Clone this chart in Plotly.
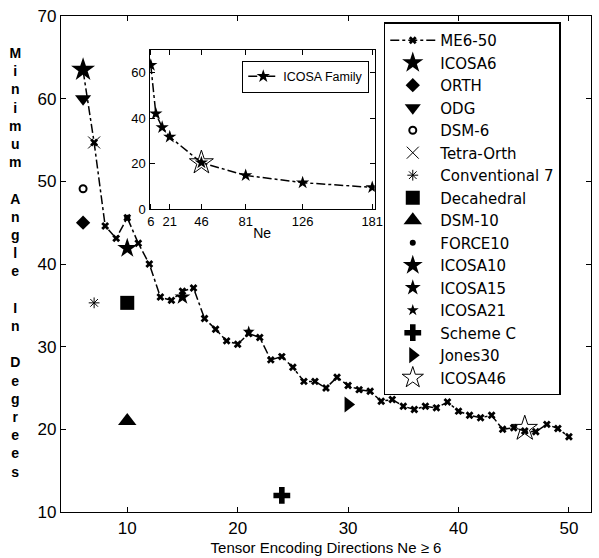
import plotly.graph_objects as go

# ---------------- data ----------------
me_ne = list(range(6, 51))
me_angle = [63.4, 54.7, 44.6, 43.1, 45.6, 42.5, 40.0, 36.0, 35.6, 36.7,
            37.1, 33.4, 32.1, 30.7, 30.3, 31.6, 31.1, 28.4, 28.8, 27.5,
            25.8, 25.8, 25.0, 26.3, 25.3, 24.8, 24.6, 23.4, 23.6, 22.8,
            22.4, 22.8, 22.6, 23.3, 22.2, 21.7, 21.4, 21.7, 20.0, 20.2,
            19.8, 19.7, 20.6, 20.1, 19.1]

schemes = ["ICOSA6", "ORTH", "ODG", "DSM-6", "Tetra-Orth", "Conventional 7",
           "Decahedral", "DSM-10", "FORCE10", "ICOSA10", "ICOSA15", "ICOSA21",
           "Scheme C", "Jones30", "ICOSA46"]
scheme_ne = [6, 6, 6, 6, 7, 7, 10, 10, 10, 10, 15, 21, 24, 30, 46]
scheme_angle = [63.5, 45.0, 60.0, 49.1, 54.7, 35.3, 35.3, 21.0, 45.6, 41.9,
                36.0, 31.8, 12.0, 23.0, 20.1]

icosa_ne = [6, 10, 15, 21, 46, 81, 126, 181]
icosa_angle = [63.4, 42.0, 36.0, 31.8, 20.4, 14.8, 11.6, 9.5]

main_xticks = [10, 20, 30, 40, 50]
main_yticks = [10, 20, 30, 40, 50, 60, 70]
inset_xticks = [6, 21, 46, 81, 126, 181]
inset_yticks = [0, 20, 40, 60]

# marker styles (symbol, size, line width)
styles = {
    "ICOSA6": ("star", 18, 0),
    "ORTH": ("diamond", 11, 0),
    "ODG": ("triangle-down", 14, 0),
    "DSM-6": ("circle-open", 7, 2),
    "Tetra-Orth": ("x-thin-open", 12, 1),
    "Conventional 7": ("asterisk-open", 9, 1),
    "Decahedral": ("square", 14, 0),
    "DSM-10": ("triangle-up", 16, 0),
    "FORCE10": ("circle", 6, 0),
    "ICOSA10": ("star", 15, 0),
    "ICOSA15": ("star", 12, 0),
    "ICOSA21": ("star", 9, 0),
    "Scheme C": ("cross", 14, 0),
    "Jones30": ("triangle-right", 14, 0),
    "ICOSA46": ("star-open", 19, 1),
}

fig = go.Figure()

fig.add_trace(go.Scatter(
    x=me_ne, y=me_angle, mode="lines+markers", name="ME6-50",
    line=dict(color="black", width=1.5, dash="dashdot"),
    marker=dict(symbol="x", size=7, color="black"),
))

for name, xv, yv in zip(schemes, scheme_ne, scheme_angle):
    sym, size, lw = styles[name]
    fig.add_trace(go.Scatter(
        x=[xv], y=[yv], mode="markers", name=name,
        marker=dict(symbol=sym, size=size, color="black",
                    line=dict(color="black", width=lw)),
    ))

# inset
fig.add_trace(go.Scatter(
    x=icosa_ne, y=icosa_angle, mode="lines+markers", name="ICOSA Family",
    xaxis="x2", yaxis="y2", legend="legend2",
    line=dict(color="black", width=1.5, dash="dashdot"),
    marker=dict(symbol="star", size=10, color="black"),
))
fig.add_trace(go.Scatter(
    x=[icosa_ne[4]], y=[icosa_angle[4]], mode="markers", showlegend=False,
    xaxis="x2", yaxis="y2",
    marker=dict(symbol="star-open", size=18, color="black",
                line=dict(color="black", width=1)),
))

axis_common = dict(showline=True, linecolor="black", linewidth=1.2,
                   mirror="ticks", ticks="inside", ticklen=5,
                   tickcolor="black", showgrid=False, zeroline=False,
                   automargin=False)

font_family = "Liberation Sans, Arial, sans-serif"

ylabel = "<br>".join(list("Minimum") + ["\u00a0"] + list("Angle") + ["\u00a0"]
                     + list("In") + ["\u00a0"] + list("Degrees"))

fig.update_layout(
    width=599, height=558,
    margin=dict(l=61, r=8, t=16, b=46, autoexpand=False),
    paper_bgcolor="white", plot_bgcolor="white",
    font=dict(family=font_family, color="black"),
    xaxis=dict(range=[4, 52], tickvals=main_xticks,
               tickfont=dict(size=17),
               title=dict(text="Tensor Encoding Directions Ne \u2265 6",
                          font=dict(size=15), standoff=5),
               **axis_common),
    yaxis=dict(range=[10, 70], tickvals=main_yticks,
               tickfont=dict(size=17), **axis_common),
    xaxis2=dict(domain=[0.167, 0.592], anchor="y2", range=[5, 183],
                tickvals=inset_xticks, tickfont=dict(size=13),
                title=dict(text="Ne", font=dict(size=14), standoff=0),
                **axis_common),
    yaxis2=dict(domain=[0.611, 0.931], anchor="x2", range=[0, 70],
                tickvals=inset_yticks, tickfont=dict(size=13),
                **axis_common),
    legend=dict(x=0.609, y=0.987, xanchor="left", yanchor="top",
                bgcolor="white", bordercolor="black", borderwidth=1.5,
                font=dict(size=15, family="DejaVu Sans"), itemwidth=45,
                tracegroupgap=0),
    legend2=dict(x=0.342, y=0.91, xanchor="left", yanchor="top",
                 bgcolor="white", bordercolor="black", borderwidth=1,
                 font=dict(size=12.5)),
    annotations=[dict(text=ylabel, xref="paper", yref="paper",
                      x=-0.086, y=0.503, xanchor="center", yanchor="middle",
                      showarrow=False, align="center",
                      font=dict(size=14, family=font_family, weight="bold"))],
)

fig.write_html("out.html", config={"displayModeBar": False},
               post_script="document.body.style.margin='0';")
